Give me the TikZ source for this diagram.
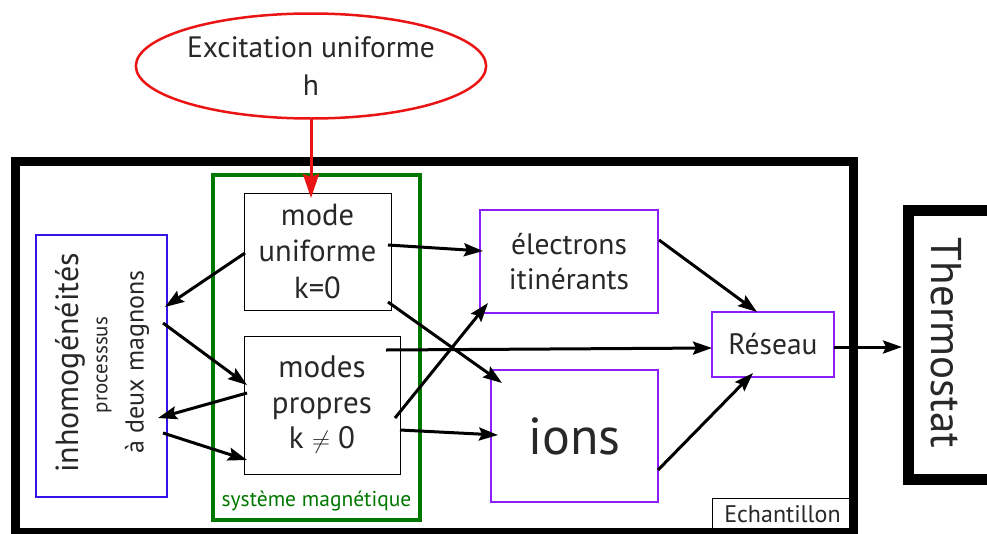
\documentclass[tikz,border=0pt]{standalone}
\usepackage{fontspec}
\setmainfont{PT Sans}
\usetikzlibrary{shapes.geometric,arrows.meta}
\definecolor{txt}{RGB}{40,40,40}
\definecolor{exred}{RGB}{235,20,20}
\definecolor{mgreen}{RGB}{0,120,0}
\definecolor{violetb}{RGB}{140,30,250}
\definecolor{blueb}{RGB}{50,20,230}
\tikzset{
  base/.style={inner sep=0pt, outer sep=0pt, text=txt, align=center},
  box/.style={base, draw, rectangle},
  conn/.style={line width=3pt, -{Stealth[length=19pt,width=13pt,inset=3pt]}},
  fs/.style 2 args={font=\fontsize{#1}{#2}\selectfont}
}
\begin{document}
\begin{tikzpicture}[x=1pt,y=-1pt]
\useasboundingbox (0,0) rectangle (987,533);
\fill[white] (0,0) rectangle (987,533);

% outer sample box
\node[box, line width=9pt, minimum width=838pt, minimum height=371pt] (ech) at (434,346.5) {};
\node[box, line width=1pt, minimum width=141pt, minimum height=32pt, fs={24}{28}] (echl) at (782.5,514) {Echantillon};

% thermostat
\node[box, line width=11pt, minimum width=85pt, minimum height=269pt] (th) at (950.5,344.5) {};
\node[base, rotate=-90, fs={43}{50}] (thtxt) at (946,343) {Thermostat};

% excitation
\node[base, ellipse, draw=exred, line width=2.5pt, minimum width=337pt, minimum height=105pt, fs={29.5}{38}] (ell) at (311,66) {Excitation uniforme\\h};

% magnetic system
\node[box, draw=mgreen, line width=4pt, minimum width=207pt, minimum height=345pt] (green) at (316.5,347.5) {};
\node[base, text=mgreen, fs={21.5}{25}] (greenl) at (316.5,501) {système magnétique};

\node[box, line width=1pt, minimum width=147pt, minimum height=117pt, fs={30.5}{36.5}] (mu) at (317.5,251.5) {mode\\uniforme\\k=0};
\node[box, line width=1pt, minimum width=156pt, minimum height=138pt, fs={31}{35.5}] (mp) at (322,405) {modes\\propres\\k $\neq$ 0};

% inhomogeneities
\node[box, draw=blueb, line width=2pt, minimum width=131pt, minimum height=262pt] (inh) at (101.5,366) {};
\node[base, rotate=90, fs={32}{36}] (inh1) at (70,363) {inhomogénéités};
\node[base, rotate=90, fs={21}{25}] (inh2) at (104,365) {processsus};
\node[base, rotate=90, fs={26}{30}] (inh3) at (137,362) {à deux magnons};

% electrons, ions, lattice
\node[box, draw=violetb, line width=2.5pt, minimum width=178pt, minimum height=103pt, fs={29.5}{35}] (el) at (569,261.5) {électrons\\itinérants};
\node[box, draw=violetb, line width=2.5pt, minimum width=167pt, minimum height=132pt, fs={52}{60}] (ions) at (574.5,436) {ions};
\node[box, draw=violetb, line width=2.5pt, minimum width=122pt, minimum height=65pt, fs={29.5}{34}] (res) at (773,344.5) {Réseau};

% red excitation arrow
\draw[line width=3pt, exred, -{Stealth[length=24pt,width=16pt,inset=3pt]}] (ell.south) -- ([xshift=-6.5pt,yshift=-5pt]mu.north);

% connectors
\draw[conn] ([xshift=-3pt,yshift=6.5pt]mu.east) -- ([xshift=3pt,yshift=10.5pt]el.west);
\draw[conn] ([xshift=-3pt,yshift=8pt]mu.south east) -- ([xshift=11pt,yshift=-13pt]ions.north west);
\draw[conn] ([xshift=-14pt,yshift=-14pt]mp.north east) -- ([yshift=-3.5pt]res.west);
\draw[conn] ([xshift=-5pt,yshift=-13pt]mp.east) -- ([xshift=8pt,yshift=10pt]el.south west);
\draw[conn] ([yshift=-25pt]mp.east) -- ([xshift=7pt,yshift=1pt]ions.west);
\draw[conn] ([xshift=1pt,yshift=21.5pt]el.east) -- ([xshift=-16pt]res.north);
\draw[conn] ([yshift=-34pt]ions.east) -- ([xshift=-20pt,yshift=4pt]res.south);
\draw[conn] ([yshift=-2.5pt]res.east) -- ([xshift=-6pt,yshift=-2.5pt]th.west);

\draw[conn] ([xshift=1pt,yshift=-1.5pt]mu.west) -- ([xshift=-2pt,yshift=59pt]inh.east);
\draw[conn] ([xshift=-4pt,yshift=43pt]inh.east) -- ([xshift=3pt,yshift=20pt]mp.west);
\draw[conn] ([xshift=3pt,yshift=12pt]mp.west) -- ([xshift=-9pt,yshift=-52pt]inh.east);
\draw[conn] ([xshift=-4pt,yshift=-67pt]inh.east) -- ([xshift=3pt,yshift=-55pt]mp.west);
\end{tikzpicture}
\end{document}
